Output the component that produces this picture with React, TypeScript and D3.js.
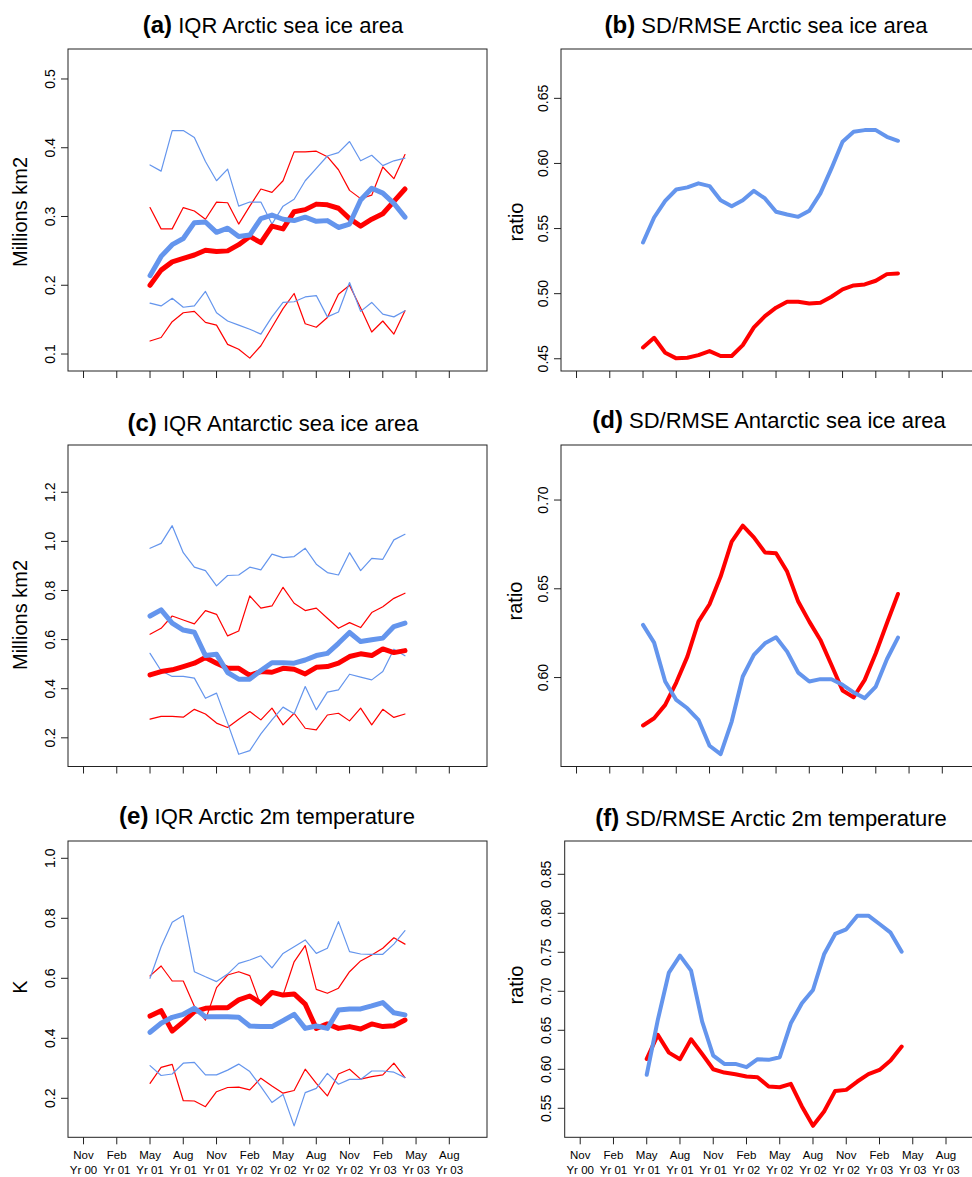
import React from 'react';
import * as d3 from 'd3';

const RED = '#FF0000';
const BLUE = '#6495ED';
const FONT = '"Liberation Sans", Arial, Helvetica, sans-serif';

// months counted from Nov Yr 00 (= 0); data run May Yr 01 .. Apr Yr 03
const leadMonths = [6, 7, 8, 9, 10, 11, 12, 13, 14, 15, 16, 17, 18, 19, 20, 21, 22, 23, 24, 25, 26, 27, 28, 29];
const xTickMonths = [0, 3, 6, 9, 12, 15, 18, 21, 24, 27, 30, 33];
const xTickMon = ['Nov', 'Feb', 'May', 'Aug', 'Nov', 'Feb', 'May', 'Aug', 'Nov', 'Feb', 'May', 'Aug'];
const xTickYr = ['Yr 00', 'Yr 01', 'Yr 01', 'Yr 01', 'Yr 01', 'Yr 02', 'Yr 02', 'Yr 02', 'Yr 02', 'Yr 03', 'Yr 03', 'Yr 03'];

// (a) IQR Arctic sea ice area
const aRedMid = [0.200, 0.222, 0.234, 0.239, 0.244, 0.251, 0.249, 0.250, 0.259, 0.271, 0.262, 0.286, 0.282, 0.307, 0.310, 0.318, 0.317, 0.312, 0.297, 0.286, 0.296, 0.304, 0.322, 0.340];
const aBlueMid = [0.214, 0.242, 0.259, 0.268, 0.291, 0.292, 0.277, 0.283, 0.271, 0.273, 0.297, 0.302, 0.296, 0.294, 0.299, 0.293, 0.294, 0.284, 0.289, 0.324, 0.341, 0.334, 0.319, 0.299];
const aRedHi = [0.313, 0.282, 0.282, 0.313, 0.308, 0.296, 0.321, 0.320, 0.289, 0.315, 0.340, 0.335, 0.352, 0.394, 0.394, 0.395, 0.387, 0.368, 0.338, 0.326, 0.331, 0.372, 0.355, 0.390];
const aBlueHi = [0.375, 0.366, 0.425, 0.425, 0.415, 0.380, 0.352, 0.369, 0.315, 0.321, 0.321, 0.289, 0.315, 0.325, 0.352, 0.370, 0.388, 0.393, 0.409, 0.381, 0.389, 0.374, 0.381, 0.385];
const aRedLo = [0.119, 0.124, 0.147, 0.160, 0.162, 0.146, 0.142, 0.114, 0.107, 0.094, 0.112, 0.139, 0.166, 0.188, 0.144, 0.139, 0.153, 0.187, 0.200, 0.167, 0.132, 0.148, 0.129, 0.163];
const aBlueLo = [0.174, 0.170, 0.181, 0.168, 0.170, 0.191, 0.160, 0.148, 0.142, 0.136, 0.129, 0.154, 0.175, 0.176, 0.183, 0.185, 0.154, 0.161, 0.204, 0.162, 0.175, 0.158, 0.154, 0.163];

// (b) SD/RMSE Arctic sea ice area
const bBlue = [0.5393, 0.5585, 0.5713, 0.580, 0.5816, 0.5847, 0.5826, 0.5718, 0.5672, 0.5718, 0.579, 0.5731, 0.5629, 0.5608, 0.559, 0.5637, 0.577, 0.5962, 0.6167, 0.6243, 0.6256, 0.6256, 0.6205, 0.6174];
const bRed = [0.4587, 0.4661, 0.4546, 0.4503, 0.4508, 0.4528, 0.4559, 0.4521, 0.4521, 0.4605, 0.4741, 0.4828, 0.4892, 0.4938, 0.4938, 0.4925, 0.493, 0.4976, 0.5033, 0.5063, 0.5071, 0.5099, 0.515, 0.5155];

// (c) IQR Antarctic sea ice area
const cRedMid = [0.456, 0.470, 0.477, 0.490, 0.504, 0.527, 0.504, 0.483, 0.483, 0.454, 0.470, 0.467, 0.483, 0.479, 0.460, 0.487, 0.490, 0.504, 0.531, 0.542, 0.535, 0.562, 0.547, 0.555];
const cBlueMid = [0.696, 0.721, 0.667, 0.639, 0.630, 0.535, 0.540, 0.466, 0.439, 0.439, 0.474, 0.506, 0.506, 0.504, 0.517, 0.535, 0.544, 0.585, 0.629, 0.592, 0.599, 0.606, 0.653, 0.667];
const cBlueHi = [0.972, 0.992, 1.064, 0.954, 0.895, 0.881, 0.819, 0.861, 0.863, 0.895, 0.884, 0.948, 0.934, 0.938, 0.972, 0.907, 0.873, 0.863, 0.954, 0.881, 0.931, 0.927, 1.006, 1.029];
const cRedHi = [0.622, 0.646, 0.696, 0.680, 0.664, 0.718, 0.703, 0.615, 0.635, 0.778, 0.728, 0.737, 0.813, 0.748, 0.718, 0.728, 0.687, 0.646, 0.669, 0.649, 0.710, 0.734, 0.768, 0.789];
const cBlueLo = [0.544, 0.473, 0.450, 0.450, 0.443, 0.361, 0.382, 0.260, 0.133, 0.148, 0.216, 0.273, 0.325, 0.298, 0.409, 0.314, 0.386, 0.395, 0.459, 0.447, 0.436, 0.470, 0.561, 0.534];
const cRedLo = [0.276, 0.287, 0.287, 0.284, 0.316, 0.297, 0.260, 0.242, 0.276, 0.307, 0.273, 0.321, 0.253, 0.300, 0.239, 0.232, 0.293, 0.300, 0.269, 0.321, 0.253, 0.316, 0.283, 0.297];

// (d) SD/RMSE Antarctic sea ice area
const dRed = [0.573, 0.5771, 0.5846, 0.5972, 0.6118, 0.6315, 0.6413, 0.6569, 0.6766, 0.6856, 0.679, 0.6705, 0.670, 0.6597, 0.6428, 0.6315, 0.6212, 0.6071, 0.5927, 0.5889, 0.5987, 0.6137, 0.6306, 0.6471];
const dBlue = [0.6297, 0.6197, 0.5978, 0.5874, 0.5827, 0.5762, 0.5616, 0.5569, 0.5752, 0.6006, 0.6128, 0.6193, 0.6227, 0.6146, 0.6028, 0.5978, 0.5991, 0.5991, 0.5959, 0.5916, 0.5884, 0.5949, 0.6103, 0.6225];

// (e) IQR Arctic 2m temperature
const eRedMid = [0.474, 0.492, 0.424, 0.455, 0.489, 0.500, 0.502, 0.502, 0.528, 0.541, 0.517, 0.553, 0.544, 0.548, 0.514, 0.433, 0.448, 0.433, 0.439, 0.431, 0.448, 0.439, 0.442, 0.461];
const eBlueMid = [0.420, 0.450, 0.470, 0.480, 0.500, 0.472, 0.472, 0.472, 0.470, 0.441, 0.439, 0.439, 0.459, 0.480, 0.433, 0.441, 0.433, 0.494, 0.498, 0.498, 0.508, 0.519, 0.485, 0.478];
const eBlueHi = [0.600, 0.705, 0.787, 0.809, 0.622, 0.605, 0.589, 0.614, 0.650, 0.661, 0.675, 0.635, 0.683, 0.705, 0.728, 0.683, 0.700, 0.789, 0.689, 0.681, 0.680, 0.680, 0.714, 0.759];
const eRedHi = [0.608, 0.641, 0.591, 0.591, 0.507, 0.461, 0.569, 0.611, 0.622, 0.609, 0.508, 0.550, 0.544, 0.655, 0.709, 0.563, 0.550, 0.567, 0.622, 0.658, 0.678, 0.700, 0.735, 0.714];
const eBlueLo = [0.309, 0.276, 0.281, 0.317, 0.320, 0.278, 0.278, 0.294, 0.314, 0.289, 0.239, 0.186, 0.213, 0.108, 0.219, 0.233, 0.283, 0.247, 0.263, 0.263, 0.291, 0.291, 0.287, 0.269];
const eRedLo = [0.250, 0.303, 0.313, 0.192, 0.191, 0.172, 0.222, 0.236, 0.237, 0.228, 0.267, 0.241, 0.217, 0.226, 0.297, 0.250, 0.208, 0.281, 0.297, 0.264, 0.272, 0.278, 0.317, 0.269];

// (f) SD/RMSE Arctic 2m temperature
const fBlue = [0.593, 0.6633, 0.724, 0.7457, 0.7265, 0.6612, 0.6176, 0.6069, 0.6069, 0.6027, 0.6129, 0.6121, 0.6155, 0.659, 0.6846, 0.7017, 0.7474, 0.7735, 0.7794, 0.797, 0.797, 0.7863, 0.7752, 0.7508];
const fRed = [0.6133, 0.6441, 0.6214, 0.6129, 0.6385, 0.6197, 0.6001, 0.5958, 0.5937, 0.5907, 0.5898, 0.5779, 0.577, 0.5813, 0.5523, 0.5275, 0.5459, 0.5723, 0.5736, 0.5843, 0.5937, 0.5992, 0.6112, 0.6291];

const iqrTicksA = [0.1, 0.2, 0.3, 0.4, 0.5];
const ratioTicksB = [0.45, 0.5, 0.55, 0.6, 0.65];
const iqrTicksC = [0.2, 0.4, 0.6, 0.8, 1.0, 1.2];
const ratioTicksD = [0.6, 0.65, 0.7];
const iqrTicksE = [0.2, 0.4, 0.6, 0.8, 1.0];
const ratioTicksF = [0.55, 0.6, 0.65, 0.7, 0.75, 0.8, 0.85];

const iqrLines = (rMid, bMid, rHi, bHi, rLo, bLo) => [
  { v: rHi, c: RED, w: 1.2 },
  { v: bHi, c: BLUE, w: 1.2 },
  { v: rLo, c: RED, w: 1.2 },
  { v: bLo, c: BLUE, w: 1.2 },
  { v: rMid, c: RED, w: 5 },
  { v: bMid, c: BLUE, w: 5 },
];

const panels = [
  {
    tag: '(a)', title: 'IQR Arctic sea ice area', titleX: 273, titleY: 33,
    yLab: 'Millions km2', yLabX: 27, yLabY: 212,
    left: 68, top: 49, bottom: 371, yDomain: [0.0753, 0.5436], ticks: iqrTicksA, digits: 1,
    lines: iqrLines(aRedMid, aBlueMid, aRedHi, aBlueHi, aRedLo, aBlueLo),
  },
  {
    tag: '(b)', title: 'SD/RMSE Arctic sea ice area', titleX: 766, titleY: 33,
    yLab: 'ratio', yLabX: 522.5, yLabY: 222,
    left: 561, top: 49, bottom: 371, yDomain: [0.4406, 0.6879], ticks: ratioTicksB, digits: 2,
    lines: [{ v: bRed, c: RED, w: 4 }, { v: bBlue, c: BLUE, w: 4 }],
  },
  {
    tag: '(c)', title: 'IQR Antarctic sea ice area', titleX: 273, titleY: 431,
    yLab: 'Millions km2', yLabX: 27, yLabY: 615,
    left: 68, top: 445, bottom: 766.5, yDomain: [0.0832, 1.3925], ticks: iqrTicksC, digits: 1,
    lines: iqrLines(cRedMid, cBlueMid, cRedHi, cBlueHi, cRedLo, cBlueLo),
  },
  {
    tag: '(d)', title: 'SD/RMSE Antarctic sea ice area', titleX: 769, titleY: 428,
    yLab: 'ratio', yLabX: 521.5, yLabY: 601,
    left: 561, top: 445, bottom: 766.5, yDomain: [0.5499, 0.731], ticks: ratioTicksD, digits: 2,
    lines: [{ v: dRed, c: RED, w: 4 }, { v: dBlue, c: BLUE, w: 4 }],
  },
  {
    tag: '(e)', title: 'IQR Arctic 2m temperature', titleX: 267, titleY: 824,
    yLab: 'K', yLabX: 27, yLabY: 987,
    left: 68, top: 841, bottom: 1137.3, yDomain: [0.07, 1.0577], ticks: iqrTicksE, digits: 1,
    lines: iqrLines(eRedMid, eBlueMid, eRedHi, eBlueHi, eRedLo, eBlueLo),
    xLabels: true,
  },
  {
    tag: '(f)', title: 'SD/RMSE Arctic 2m temperature', titleX: 771, titleY: 826,
    yLab: 'ratio', yLabX: 523, yLabY: 985,
    left: 564.7, top: 841, bottom: 1137.3, yDomain: [0.5128, 0.8927], ticks: ratioTicksF, digits: 2,
    lines: [{ v: fRed, c: RED, w: 4 }, { v: fBlue, c: BLUE, w: 4 }],
    xLabels: true,
  },
];

const BOX_W = 419;

function Panel({ p }) {
  // R-style xlim c(0, 35) with the 4% extension
  const x = d3.scaleLinear().domain([-1.4, 36.4]).range([p.left, p.left + BOX_W]);
  const y = d3.scaleLinear().domain(p.yDomain).range([p.bottom, p.top]);
  const line = d3.line<number>().x((_, i) => x(leadMonths[i])).y(d => y(d));

  return (
    <g>
      <text x={p.titleX} y={p.titleY} textAnchor="middle" fontSize={22} fill="#000">
        <tspan fontWeight="bold" fontSize={24}>{p.tag}</tspan>
        <tspan> {p.title}</tspan>
      </text>
      <text transform={`translate(${p.yLabX},${p.yLabY}) rotate(-90)`} textAnchor="middle" fontSize={20} fill="#000">
        {p.yLab}
      </text>

      {p.lines.map((l, i) => (
        <path key={i} d={line(l.v)} fill="none" stroke={l.c} strokeWidth={l.w} strokeLinejoin="round" strokeLinecap="round" />
      ))}

      <rect x={p.left} y={p.top} width={BOX_W} height={p.bottom - p.top} fill="none" stroke="#222" strokeWidth={1} />

      {p.ticks.map(t => (
        <g key={t}>
          <line x1={p.left - 7} x2={p.left} y1={y(t)} y2={y(t)} stroke="#222" />
          <text transform={`translate(${p.left - 13.5},${y(t)}) rotate(-90)`} textAnchor="middle" fontSize={14} fill="#000">
            {t.toFixed(p.digits)}
          </text>
        </g>
      ))}

      {xTickMonths.map((m, i) => (
        <g key={m}>
          <line x1={x(m)} x2={x(m)} y1={p.bottom} y2={p.bottom + 7} stroke="#222" />
          {p.xLabels && (
            <text x={x(m)} textAnchor="middle" fontSize={11.5} fill="#000">
              <tspan x={x(m)} y={p.bottom + 22}>{xTickMon[i]}</tspan>
              <tspan x={x(m)} y={p.bottom + 36.3}>{xTickYr[i]}</tspan>
            </text>
          )}
        </g>
      ))}
    </g>
  );
}

export default function App() {
  return (
    <svg
      width={972}
      height={1177}
      style={{ position: 'absolute', left: 0, top: 0, background: '#fff', fontFamily: FONT }}
    >
      <rect x={0} y={0} width={972} height={1177} fill="#fff" />
      {panels.map(p => (
        <Panel key={p.tag} p={p} />
      ))}
    </svg>
  );
}
